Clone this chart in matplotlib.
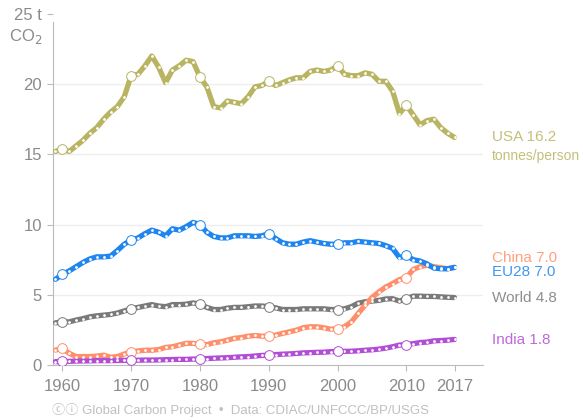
import matplotlib
matplotlib.use("Agg")
import matplotlib.pyplot as plt

plt.rcParams['font.family'] = ['Liberation Sans', 'DejaVu Sans']

# Per-capita fossil CO2 emissions, tonnes CO2 per person
years = list(range(1959, 2018))

usa = [15.2, 15.4, 15.2, 15.6, 16.0, 16.5, 16.9, 17.5, 18.0, 18.4, 19.1,
       20.6, 20.7, 21.3, 22.0, 21.2, 20.1, 21.0, 21.3, 21.7, 21.6,
       20.5, 19.8, 18.4, 18.3, 18.8, 18.7, 18.6, 19.1, 19.8, 19.9,
       20.2, 19.9, 20.1, 20.3, 20.45, 20.45, 20.9, 21.0, 20.9, 21.0,
       21.3, 20.7, 20.6, 20.6, 20.8, 20.7, 20.2, 20.2, 19.5, 17.9,
       18.5, 17.8, 17.1, 17.4, 17.5, 16.9, 16.5, 16.2]

eu28 = [6.1, 6.45, 6.7, 7.0, 7.3, 7.55, 7.7, 7.7, 7.75, 8.15, 8.6,
        8.9, 9.05, 9.35, 9.6, 9.45, 9.2, 9.7, 9.6, 9.85, 10.15,
        10.0, 9.45, 9.15, 9.05, 9.05, 9.2, 9.2, 9.2, 9.15, 9.2,
        9.35, 9.0, 8.7, 8.6, 8.6, 8.75, 8.85, 8.75, 8.65, 8.6,
        8.6, 8.7, 8.7, 8.8, 8.75, 8.7, 8.65, 8.5, 8.3, 7.65,
        7.8, 7.5, 7.4, 7.2, 6.9, 6.85, 6.85, 6.95]

world = [3.0, 3.07, 3.07, 3.2, 3.3, 3.43, 3.5, 3.55, 3.6, 3.7, 3.85,
         4.0, 4.1, 4.2, 4.3, 4.2, 4.15, 4.3, 4.3, 4.33, 4.42,
         4.33, 4.1, 3.95, 3.95, 4.05, 4.1, 4.1, 4.15, 4.2, 4.2,
         4.15, 4.07, 3.95, 3.95, 3.95, 4.0, 4.0, 4.0, 4.0, 3.95,
         3.95, 4.0, 4.15, 4.4, 4.5, 4.55, 4.6, 4.7, 4.72, 4.55,
         4.73, 4.9, 4.9, 4.88, 4.88, 4.85, 4.82, 4.8]

china = [1.06, 1.18, 0.83, 0.6, 0.6, 0.6, 0.63, 0.7, 0.55, 0.6, 0.78,
         0.94, 1.0, 1.05, 1.05, 1.1, 1.25, 1.3, 1.42, 1.54, 1.54,
         1.47, 1.45, 1.58, 1.65, 1.77, 1.9, 1.95, 2.05, 2.1, 2.05,
         2.05, 2.13, 2.25, 2.36, 2.48, 2.65, 2.72, 2.72, 2.65, 2.55,
         2.58, 2.72, 3.07, 3.67, 4.26, 4.8, 5.2, 5.55, 5.8, 6.08,
         6.22, 6.8, 7.0, 7.1, 7.0, 6.93, 6.85, 6.95]

india = [0.24, 0.25, 0.26, 0.28, 0.29, 0.29, 0.31, 0.31, 0.31, 0.32, 0.33,
         0.33, 0.34, 0.35, 0.35, 0.36, 0.38, 0.39, 0.4, 0.4, 0.42,
         0.43, 0.46, 0.48, 0.5, 0.52, 0.55, 0.58, 0.6, 0.64, 0.68,
         0.7, 0.74, 0.77, 0.79, 0.82, 0.86, 0.88, 0.9, 0.91, 0.95,
         0.96, 0.97, 0.98, 1.01, 1.05, 1.08, 1.13, 1.2, 1.3, 1.42,
         1.45, 1.52, 1.6, 1.63, 1.72, 1.74, 1.77, 1.82]

# name, values, line colour, label text, label y position
series = [
    ("USA", usa, "#b9b462", "USA 16.2", 16.2),
    ("World", world, "#7a7a7a", "World 4.8", 4.8),
    ("China", china, "#ff8f6b", "China 7.0", 7.6),
    ("EU28", eu28, "#1f86f0", "EU28 7.0", 6.6),
    ("India", india, "#b24ed6", "India 1.8", 1.8),
]

decades = [1960, 1970, 1980, 1990, 2000, 2010]
xticks = [1960, 1970, 1980, 1990, 2000, 2010, 2017]

fig = plt.figure(figsize=(5.83, 4.2), dpi=100)
ax = fig.add_axes([0.091, 0.131, 0.737, 0.836])

for name, vals, col, lab, ly in series:
    ax.plot(years, vals, color=col, lw=3.8, solid_capstyle='round',
            solid_joinstyle='round', zorder=3)
    ax.plot(years, vals, ls='none', marker='o', ms=2.0, mfc='white',
            mec='none', zorder=4)
    dv = [vals[years.index(d)] for d in decades]
    ax.plot(decades, dv, ls='none', marker='o', ms=7, mfc='white',
            mec=col, mew=0.7, zorder=5)
    ax.text(2022.4, ly, lab, color=col, fontsize=11, va='center',
            ha='left', alpha=0.85, clip_on=False)

ax.text(2022.4, 14.9, "tonnes/person", color="#b9b462", fontsize=10,
        va='center', ha='left', alpha=0.85, clip_on=False)

ax.set_xlim(1958.65, 2021.1)
ax.set_ylim(0, 25)

for g in [5, 10, 15, 20]:
    ax.axhline(g, color='#eeeeee', lw=1, zorder=1)

ax.set_yticks([0, 5, 10, 15, 20, 25])
ax.set_yticklabels(["0", "5", "10", "15", "20", "25 t"])
ax.text(-0.025, 0.935, "CO$_2$", transform=ax.transAxes, ha='right',
        va='center', fontsize=12, color='#8a8a8a')
ax.set_xticks(xticks)
ax.tick_params(axis='both', colors='#bbbbbb', labelcolor='#8a8a8a',
               labelsize=12, length=4, width=0.8)
ax.tick_params(axis='y', pad=4)
ax.tick_params(axis='x', pad=6)

for s in ['top', 'right']:
    ax.spines[s].set_visible(False)
ax.spines['left'].set_color('#bbbbbb')
ax.spines['bottom'].set_color('#bbbbbb')
ax.spines['left'].set_bounds(0, 24.4)

fig.text(0.089, 0.006, "ⓒⓘ Global Carbon Project  •  Data: CDIAC/UNFCCC/BP/USGS",
         fontsize=9.5, color='#c0c0c0', ha='left', va='bottom',
         family=['Liberation Sans', 'Noto Sans CJK SC', 'DejaVu Sans'])

fig.savefig("out.png", dpi=100)
